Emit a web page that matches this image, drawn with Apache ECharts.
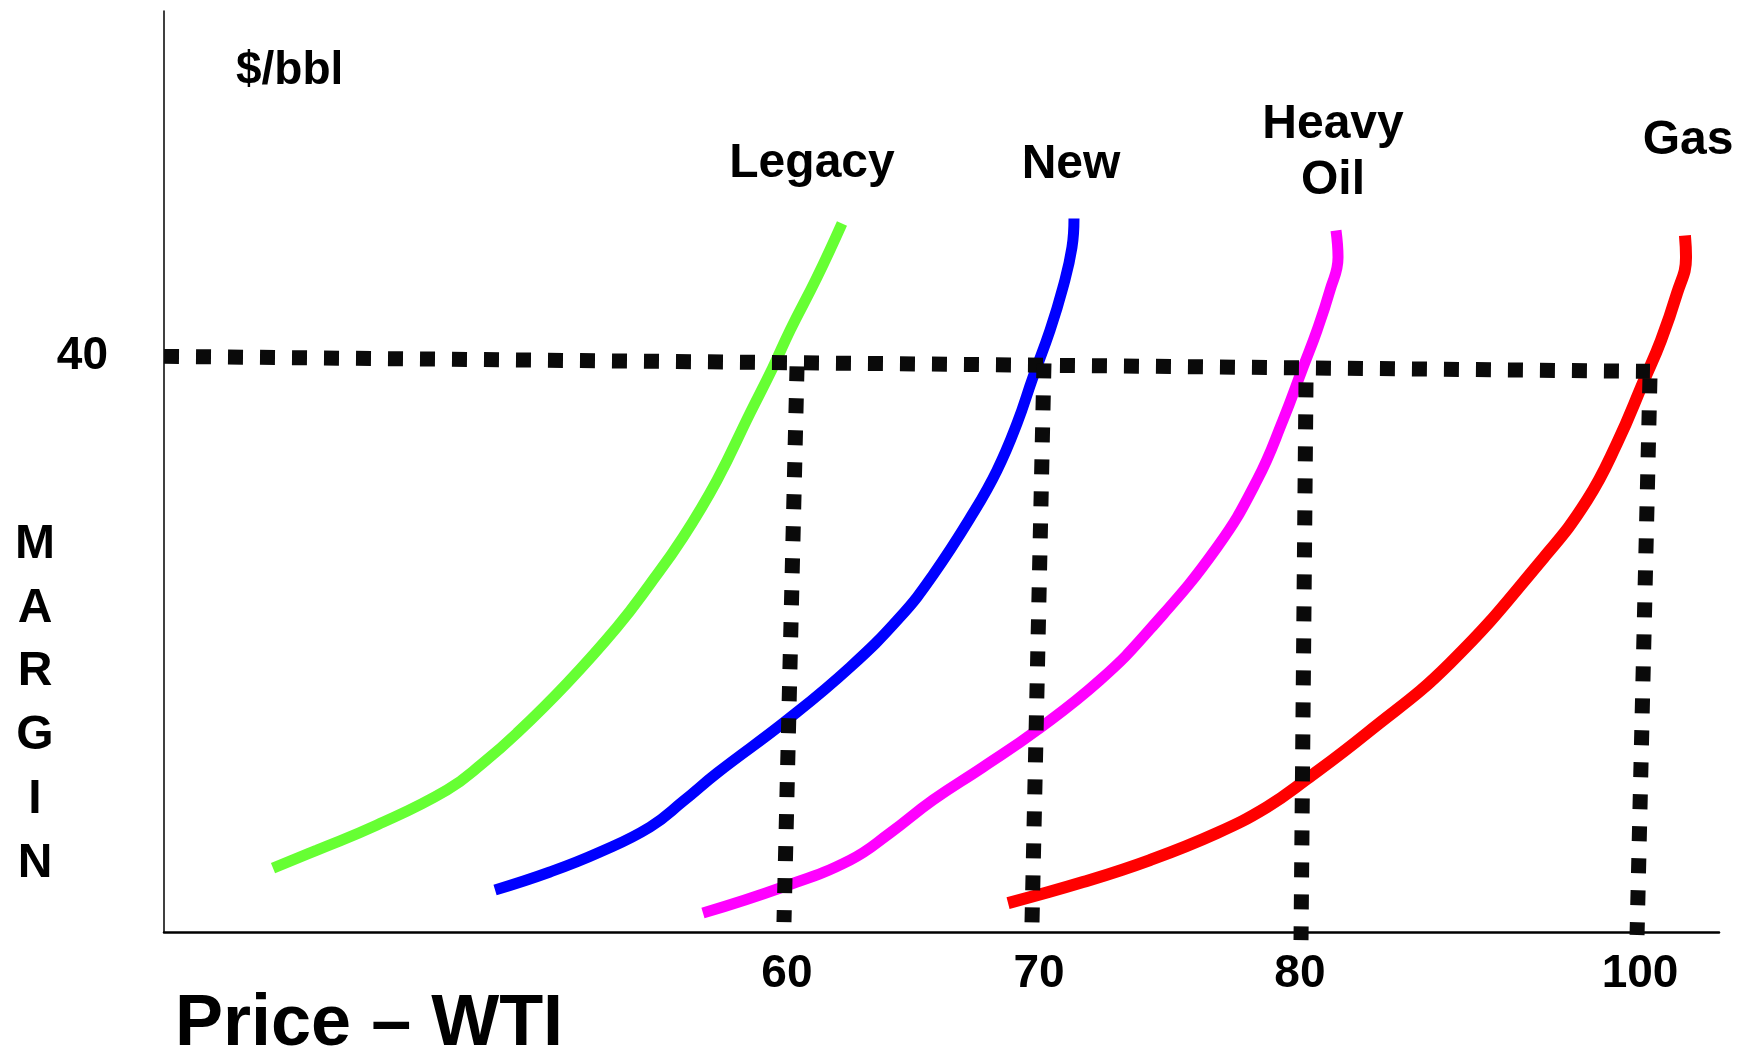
<!DOCTYPE html>
<html><head><meta charset="utf-8">
<script src="https://cdn.jsdelivr.net/npm/echarts@6/dist/echarts.min.js"></script>
<style>html,body{margin:0;padding:0;background:#fff}#c{width:1744px;height:1053px}</style>
</head><body><div id="c"></div>
<script>
// Schematic x scale (0-100 across the axis), y in $/bbl margin
const curveNames = ['Legacy', 'New', 'Heavy Oil', 'Gas'];
const legacy = [[7.01,4.44],[9.84,5.69],[13.70,7.43],[18.20,9.86],[20.51,11.74],[22.70,13.82],[25.92,17.29],[29.13,21.18],[31.25,24.17],[33.38,27.43],[35.56,31.39],[37.68,36.04],[39.16,39.24],[40.26,41.81],[41.99,45.49],[43.60,49.24]];
const newOil = [[21.29,2.92],[24.82,4.17],[28.04,5.56],[31.25,7.29],[33.40,9.10],[35.56,11.04],[40.06,14.72],[44.12,18.40],[47.33,21.88],[49.45,24.80],[52.03,29.10],[53.57,32.08],[54.86,35.35],[55.88,38.54],[56.98,41.81],[57.81,44.79],[58.39,47.57],[58.52,49.58]];
const heavyOil = [[34.66,1.32],[39.81,3.13],[44.12,5.00],[46.69,6.88],[49.45,9.17],[52.67,11.46],[56.14,14.03],[60.19,17.50],[63.41,21.04],[67.72,26.74],[70.29,31.39],[71.96,35.56],[73.25,39.24],[74.15,41.81],[74.98,44.58],[75.50,46.88],[75.37,48.75]];
const gas = [[54.28,2.01],[59.10,3.47],[63.41,5.00],[67.72,6.88],[70.93,8.68],[73.50,10.63],[77.36,13.82],[82.70,18.68],[88.75,26.04],[91.51,30.00],[93.44,33.96],[95.18,38.33],[96.27,41.11],[97.30,44.38],[97.88,46.88],[97.81,48.40]];
const marginLevel = [[0,40.00],[95.56,38.96]];
const guide60 = [[40.71,39.31],[39.87,0.69]];
const guide70 = [[56.59,39.51],[55.82,0.63]];
const guide80 = [[73.44,38.19],[73.12,-0.56]];
const guide100 = [[95.56,38.47],[94.73,-0.21]];
const priceTickLabels = ['60','70','80','100'];
const priceTickPos = [40.06,56.27,73.05,94.92];
const marginTickLabels = ['40'];
const marginTickPos = [40];

const FONT = '"Liberation Sans", Arial, sans-serif';
const chart = echarts.init(document.getElementById('c'), null, {renderer: 'canvas'});

function curve(name, data, color, width) {
  return {name, type: 'line', data, showSymbol: false, smooth: 0.45, clip: false, z: 2,
    lineStyle: {color, width, cap: 'butt'}, silent: true};
}
function guide(name, data) {
  return {name, type: 'line', data, showSymbol: false, clip: false, z: 5, silent: true,
    lineStyle: {color: '#0a0a0a', width: 15, type: [15, 17], cap: 'butt'}};
}
function nearestLabel(v, pos, labels) {
  let best = 0;
  for (let i = 1; i < pos.length; i++) if (Math.abs(pos[i]-v) < Math.abs(pos[best]-v)) best = i;
  return labels[best];
}
function txt(text, x, y, size, align, lh) {
  return {type: 'text', x, y, z: 10, silent: true, style: {text, fill: '#000', fontSize: size, fontWeight: 'bold',
    fontFamily: FONT, align: align || 'center', verticalAlign: 'middle', lineHeight: lh || size}};
}

chart.setOption({
  backgroundColor: '#fff',
  animation: false,
  grid: {left: 164, right: 25, top: 11, bottom: 121},
  xAxis: {type: 'value', min: 0, max: 100,
    axisLine: {show: true, lineStyle: {color: '#000', width: 2.5}},
    axisTick: {show: false}, splitLine: {show: false},
    axisLabel: {customValues: priceTickPos, margin: 19, color: '#000', fontSize: 46, fontWeight: 'bold', fontFamily: FONT,
      formatter: v => nearestLabel(v, priceTickPos, priceTickLabels)}},
  yAxis: {type: 'value', min: 0, max: 64,
    axisLine: {show: true, lineStyle: {color: '#000', width: 1.5}},
    axisTick: {show: false}, splitLine: {show: false},
    axisLabel: {customValues: marginTickPos, margin: 56, color: '#000', fontSize: 46, fontWeight: 'bold', fontFamily: FONT,
      formatter: v => nearestLabel(v, marginTickPos, marginTickLabels)}},
  graphic: [
    txt('$/bbl', 236, 71, 46, 'left'),
    txt(curveNames[0], 812, 164, 48),
    txt(curveNames[1], 1071, 165, 48),
    txt('Heavy\nOil', 1333, 153, 48, 'center', 56.5),
    txt(curveNames[3], 1688, 141, 48),
    txt('M\nA\nR\nG\nI\nN', 35, 704, 48, 'center', 63.8),
    txt('Price – WTI', 175, 1025, 72, 'left')
  ],
  series: [
    curve(curveNames[0], legacy, '#66ff33', 11),
    curve(curveNames[1], newOil, '#0000ff', 11),
    curve(curveNames[2], heavyOil, '#ff00ff', 11),
    curve(curveNames[3], gas, '#ff0000', 12),
    guide('Margin 40', marginLevel),
    guide('WTI 60', guide60),
    guide('WTI 70', guide70),
    guide('WTI 80', guide80),
    guide('WTI 100', guide100)
  ]
});
</script></body></html>
